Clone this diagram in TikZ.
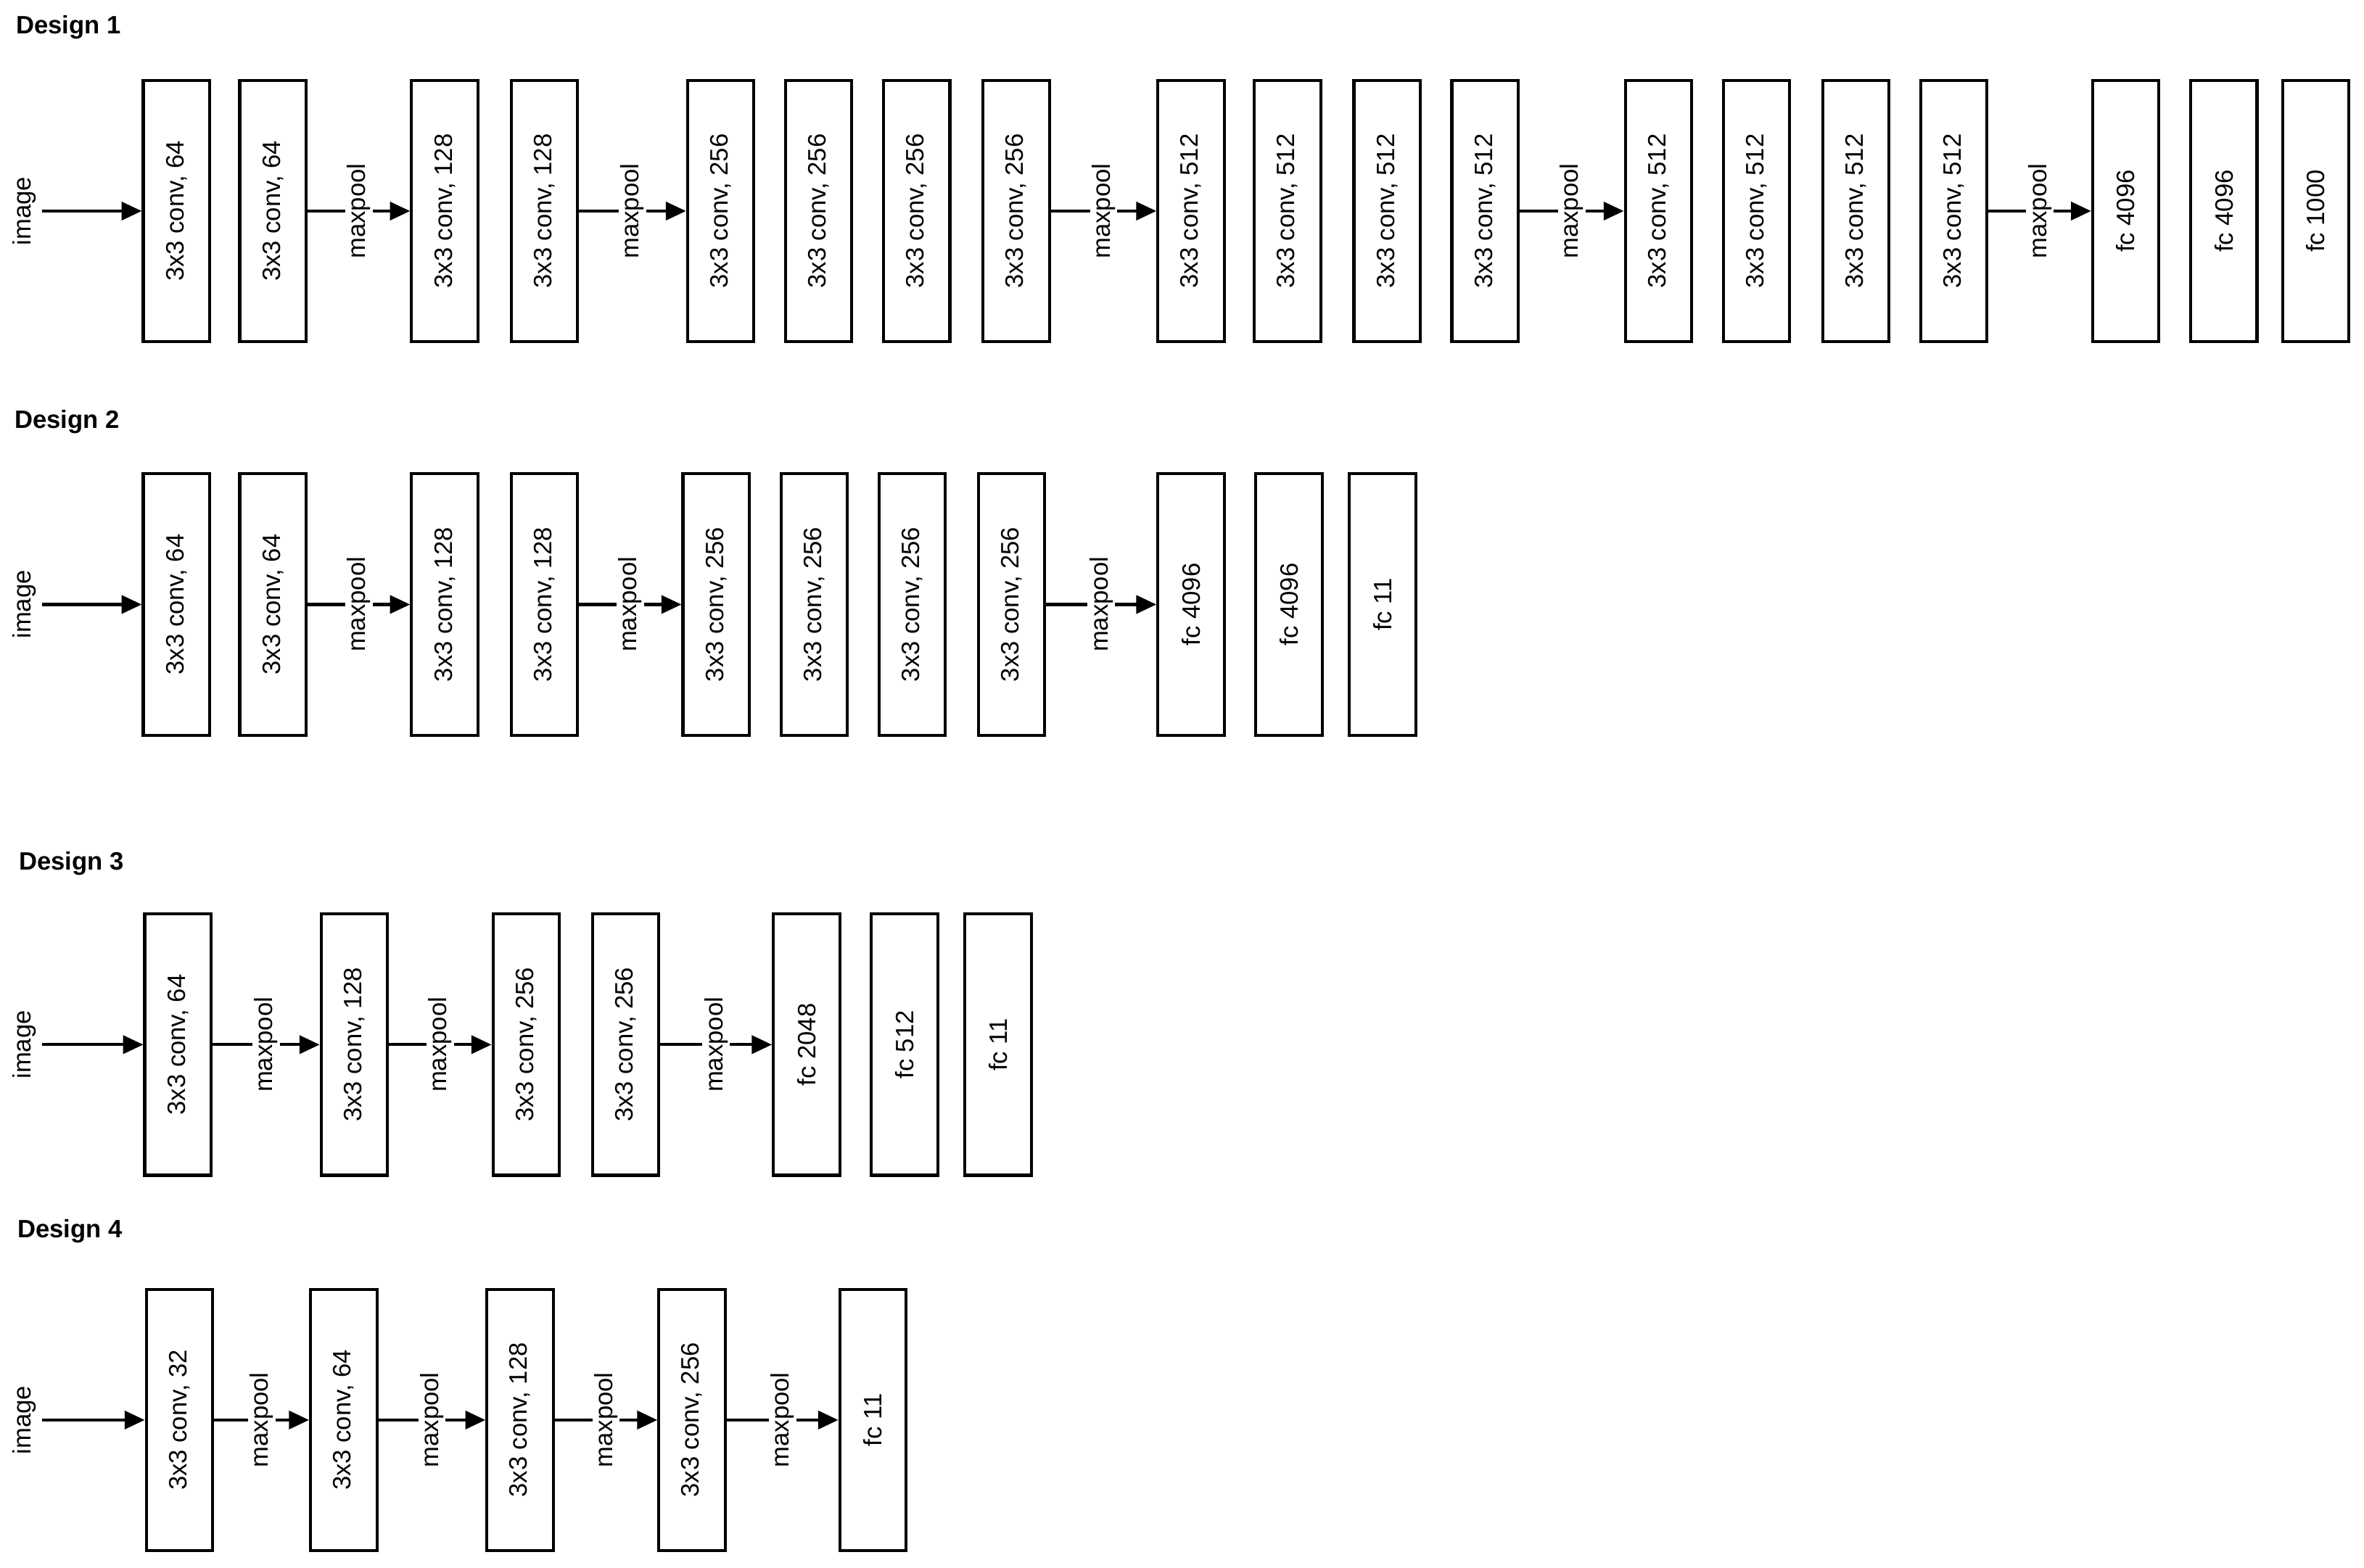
\documentclass[tikz,border=0pt]{standalone}
\usepackage{fontspec}
\setmainfont{Liberation Sans}
\usetikzlibrary{arrows.meta}
\begin{document}
\begin{tikzpicture}[x=0.75pt,y=-0.75pt,
  blk/.style={draw,line width=1.5pt,minimum width=33pt,minimum height=130pt,inner sep=0pt,font=\fontsize{12.5}{14}\selectfont},
  conn/.style={line width=1.5pt,-{Triangle[length=10pt,width=9pt]}},
  pool/.style={fill=white,inner sep=1pt,font=\fontsize{12.5}{14}\selectfont},
  ttl/.style={anchor=west,font=\bfseries\fontsize{12.5}{14}\selectfont},
  img/.style={font=\fontsize{12.5}{14}\selectfont}]
\useasboundingbox (0,0) rectangle (1568,1040);
% rows: title y, row y, list
\node[ttl] (t1) at (6,18) {Design 1};
\node[ttl] (t2) at (5,280) {Design 2};
\node[ttl] (t3) at (8,573) {Design 3};
\node[ttl] (t4) at (7,817) {Design 4};
\foreach \r/\y/\lst in {
 1/140/{95/3x3 conv{,} 64/n,159/3x3 conv{,} 64/n,273/3x3 conv{,} 128/m,339/3x3 conv{,} 128/n,456/3x3 conv{,} 256/m,521/3x3 conv{,} 256/n,586/3x3 conv{,} 256/n,652/3x3 conv{,} 256/n,768/3x3 conv{,} 512/m,832/3x3 conv{,} 512/n,898/3x3 conv{,} 512/n,963/3x3 conv{,} 512/n,1078/3x3 conv{,} 512/m,1143/3x3 conv{,} 512/n,1209/3x3 conv{,} 512/n,1274/3x3 conv{,} 512/n,1388/fc 4096/m,1453/fc 4096/n,1514/fc 1000/n},
 2/401/{95/3x3 conv{,} 64/n,159/3x3 conv{,} 64/n,273/3x3 conv{,} 128/m,339/3x3 conv{,} 128/n,453/3x3 conv{,} 256/m,518/3x3 conv{,} 256/n,583/3x3 conv{,} 256/n,649/3x3 conv{,} 256/n,768/fc 4096/m,833/fc 4096/n,895/fc 11/n},
 3/693/{96/3x3 conv{,} 64/n,213/3x3 conv{,} 128/m,327/3x3 conv{,} 256/m,393/3x3 conv{,} 256/n,513/fc 2048/m,578/fc 512/n,640/fc 11/n},
 4/942/{97/3x3 conv{,} 32/n,206/3x3 conv{,} 64/m,323/3x3 conv{,} 128/m,437/3x3 conv{,} 256/m,557/fc 11/m}} {
  \node[img] (im\r) at (16,\y) {\rotatebox{90}{image}};
  \coordinate (s\r) at (28,\y);
  \foreach \x/\t/\c [count=\i] in \lst {
    \node[blk] (b\r-\i) at (\x+22,\y) {\rotatebox{90}{\t}};
    \ifnum\i=1
      \draw[conn] (s\r) -- (b\r-\i.west);
    \else
      \pgfmathtruncatemacro{\p}{\i-1}
      \if m\c
        \draw[conn] (b\r-\p.east) -- node[pool] (mp\r-\i) {\rotatebox{90}{maxpool}} (b\r-\i.west);
      \fi
    \fi
  }
}
\end{tikzpicture}
\end{document}
